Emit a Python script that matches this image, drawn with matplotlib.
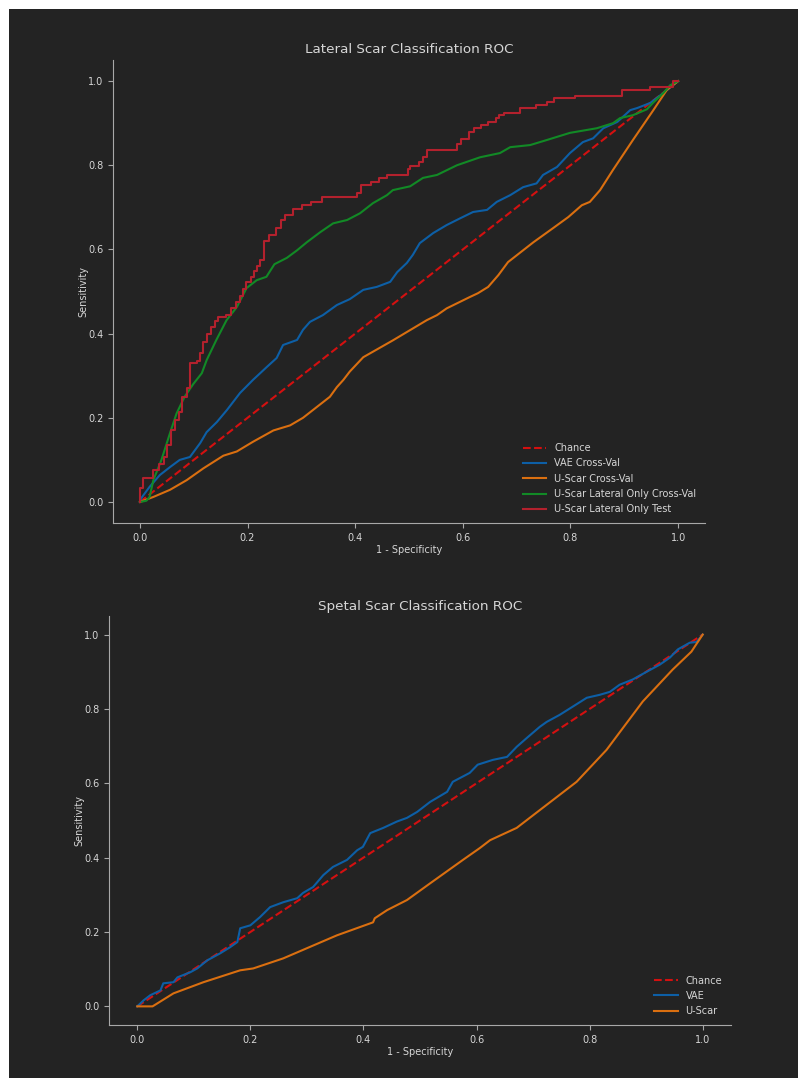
#!/usr/bin/env python3

import matplotlib
matplotlib.use("Agg")
import matplotlib.pyplot as plt
from matplotlib.patches import Rectangle

# ---- Lateral scar ROC (top panel) ----
chance = [0.0, 1.0]

vae_fpr = [0, 0.003, 0.018, 0.037, 0.056, 0.074, 0.093, 0.112, 0.124, 0.143, 0.162,
           0.186, 0.21, 0.236, 0.254, 0.266, 0.292, 0.303, 0.316, 0.34, 0.366, 0.39,
           0.415, 0.44, 0.465, 0.478, 0.496, 0.507, 0.52, 0.545, 0.57, 0.595, 0.619,
           0.645, 0.663, 0.688, 0.712, 0.737, 0.749, 0.775, 0.799, 0.823, 0.842, 0.861,
           0.887, 0.911, 0.924, 0.948, 0.972, 1.0]
vae_tpr = [0, 0.01, 0.036, 0.064, 0.083, 0.1, 0.107, 0.14, 0.166, 0.19, 0.219,
           0.259, 0.29, 0.321, 0.342, 0.373, 0.385, 0.409, 0.428, 0.444, 0.468, 0.482,
           0.504, 0.511, 0.523, 0.546, 0.568, 0.587, 0.615, 0.639, 0.658, 0.674, 0.689,
           0.694, 0.713, 0.729, 0.748, 0.757, 0.777, 0.796, 0.829, 0.855, 0.864, 0.888,
           0.903, 0.931, 0.936, 0.948, 0.971, 1.0]

uscar_fpr = [0, 0.025, 0.056, 0.087, 0.118, 0.155, 0.18, 0.21, 0.248, 0.279, 0.303,
             0.329, 0.353, 0.366, 0.378, 0.39, 0.415, 0.47, 0.533, 0.552, 0.57, 0.613,
             0.628, 0.647, 0.666, 0.684, 0.731, 0.768, 0.796, 0.821, 0.836, 0.855,
             0.879, 0.916, 0.954, 0.979, 1.0]
uscar_tpr = [0, 0.012, 0.029, 0.052, 0.08, 0.11, 0.12, 0.143, 0.17, 0.182, 0.2,
             0.226, 0.25, 0.273, 0.29, 0.31, 0.344, 0.384, 0.432, 0.444, 0.46, 0.487,
             0.496, 0.511, 0.539, 0.57, 0.617, 0.651, 0.677, 0.705, 0.713, 0.741,
             0.789, 0.86, 0.931, 0.979, 1.0]

lat_cv_fpr = [0, 0.012, 0.018, 0.025, 0.04, 0.056, 0.068, 0.083, 0.099, 0.115, 0.124,
              0.142, 0.161, 0.18, 0.198, 0.217, 0.235, 0.25, 0.273, 0.292, 0.31, 0.335,
              0.359, 0.385, 0.409, 0.433, 0.459, 0.47, 0.502, 0.526, 0.552, 0.589, 0.632,
              0.669, 0.688, 0.725, 0.756, 0.799, 0.849, 0.879, 0.892, 0.916, 0.942,
              0.953, 0.972, 0.985, 1.0]
lat_cv_tpr = [0, 0.003, 0.012, 0.052, 0.1, 0.164, 0.21, 0.25, 0.28, 0.306, 0.337,
              0.385, 0.432, 0.463, 0.508, 0.527, 0.535, 0.565, 0.58, 0.598, 0.617, 0.641,
              0.662, 0.67, 0.686, 0.71, 0.729, 0.741, 0.75, 0.77, 0.777, 0.8, 0.819,
              0.829, 0.843, 0.848, 0.86, 0.877, 0.888, 0.9, 0.912, 0.919, 0.933,
              0.948, 0.971, 0.99, 1.0]

# test curve: x where each riser sits, tpr at top of that riser
lat_test_fpr = [0, 0, 0.006, 0.025, 0.035, 0.045, 0.05, 0.058, 0.066, 0.072, 0.078,
                0.088, 0.094, 0.106, 0.112, 0.118, 0.124, 0.132, 0.140, 0.146, 0.160,
                0.170, 0.178, 0.186, 0.192, 0.198, 0.206, 0.212, 0.218, 0.224, 0.230,
                0.240, 0.252, 0.262, 0.270, 0.284, 0.302, 0.318, 0.338, 0.403, 0.410,
                0.430, 0.445, 0.460, 0.498, 0.502, 0.518, 0.526, 0.534, 0.590, 0.596,
                0.612, 0.620, 0.634, 0.646, 0.662, 0.668, 0.676, 0.706, 0.736, 0.756,
                0.770, 0.808, 0.896, 0.948, 0.990, 1.0]
lat_test_tpr = [0, 0.033, 0.057, 0.075, 0.09, 0.107, 0.135, 0.17, 0.195, 0.215, 0.25,
                0.27, 0.33, 0.335, 0.355, 0.38, 0.40, 0.415, 0.43, 0.44, 0.445,
                0.46, 0.475, 0.49, 0.505, 0.522, 0.535, 0.548, 0.56, 0.575, 0.62,
                0.635, 0.652, 0.67, 0.683, 0.695, 0.705, 0.713, 0.725, 0.735, 0.753,
                0.76, 0.77, 0.777, 0.79, 0.798, 0.808, 0.82, 0.836, 0.85, 0.862,
                0.879, 0.888, 0.895, 0.903, 0.912, 0.919, 0.924, 0.936, 0.943, 0.95,
                0.96, 0.964, 0.979, 0.986, 1.0, 1.0]

# ---- Septal scar ROC (bottom panel) ----
sep_vae_fpr = [0, 0.011, 0.023, 0.041, 0.046, 0.064, 0.071, 0.094, 0.106, 0.124, 0.147,
               0.164, 0.177, 0.182, 0.2, 0.217, 0.235, 0.258, 0.283, 0.293, 0.311, 0.329,
               0.346, 0.371, 0.389, 0.399, 0.412, 0.435, 0.459, 0.477, 0.495, 0.518,
               0.548, 0.558, 0.588, 0.602, 0.629, 0.654, 0.671, 0.689, 0.712, 0.724,
               0.747, 0.77, 0.795, 0.818, 0.836, 0.853, 0.876, 0.901, 0.924, 0.942,
               0.956, 0.977, 0.989, 1.0]
sep_vae_tpr = [0, 0.016, 0.03, 0.043, 0.062, 0.065, 0.078, 0.092, 0.102, 0.124, 0.143,
               0.159, 0.173, 0.21, 0.218, 0.24, 0.267, 0.28, 0.291, 0.305, 0.321, 0.353,
               0.375, 0.394, 0.42, 0.429, 0.466, 0.48, 0.497, 0.507, 0.523, 0.55,
               0.577, 0.604, 0.628, 0.65, 0.663, 0.671, 0.698, 0.722, 0.752, 0.765,
               0.784, 0.806, 0.83, 0.838, 0.846, 0.865, 0.879, 0.9, 0.919, 0.938,
               0.96, 0.978, 0.98, 1.0]

sep_uscar_fpr = [0, 0.027, 0.064, 0.117, 0.182, 0.205, 0.258, 0.353, 0.417, 0.42, 0.442,
                 0.477, 0.518, 0.576, 0.606, 0.624, 0.671, 0.712, 0.777, 0.83, 0.894,
                 0.947, 0.98, 1.0]
sep_uscar_tpr = [0, 0, 0.035, 0.065, 0.097, 0.102, 0.129, 0.191, 0.226, 0.237, 0.259,
                 0.286, 0.331, 0.394, 0.426, 0.447, 0.48, 0.528, 0.604, 0.69, 0.82,
                 0.906, 0.954, 1.0]

BG = "#232323"
TXT = "#d6d6d6"
SPINE = "#a8a8a8"

C_CHANCE = "#d41010"
C_BLUE = "#0d5fa6"
C_ORANGE = "#da6f10"
C_GREEN = "#128a26"
C_RED = "#b3212d"


def style_axes(ax, title, pad):
    ax.set_facecolor(BG)
    for side in ("top", "right"):
        ax.spines[side].set_visible(False)
    for side in ("left", "bottom"):
        ax.spines[side].set_color(SPINE)
    ax.tick_params(colors=SPINE, labelcolor=TXT, labelsize=7, length=3.5)
    ax.set_xlim(-0.05, 1.05)
    ax.set_ylim(-0.05, 1.05)
    ax.set_xticks([0, 0.2, 0.4, 0.6, 0.8, 1.0])
    ax.set_yticks([0, 0.2, 0.4, 0.6, 0.8, 1.0])
    ax.set_title(title, color=TXT, fontsize=9.7, pad=pad)
    ax.set_xlabel("1 - Specificity", color=TXT, fontsize=7, labelpad=1.5)
    ax.set_ylabel("Sensitivity", color=TXT, fontsize=7, labelpad=0)
    leg = ax.legend(loc="lower right", frameon=False, fontsize=7,
                    handlelength=2.4, labelspacing=0.55)
    for t in leg.get_texts():
        t.set_color(TXT)


def main():
    fig = plt.figure(figsize=(7.98, 10.78), dpi=100, facecolor="white")
    fig.add_artist(Rectangle((9 / 798, 0), 1, 1 - 9 / 1078,
                             transform=fig.transFigure, facecolor=BG,
                             edgecolor="none", zorder=-1))

    ax1 = fig.add_axes([0.1416, 0.5148, 0.7419, 0.4295])
    ax1.plot(chance, chance, color=C_CHANCE, ls="--", lw=1.5, label="Chance")
    ax1.plot(vae_fpr, vae_tpr, color=C_BLUE, lw=1.5, label="VAE Cross-Val")
    ax1.plot(uscar_fpr, uscar_tpr, color=C_ORANGE, lw=1.5, label="U-Scar Cross-Val")
    ax1.plot(lat_cv_fpr, lat_cv_tpr, color=C_GREEN, lw=1.5,
             label="U-Scar Lateral Only Cross-Val")
    ax1.plot(lat_test_fpr, lat_test_tpr, color=C_RED, lw=1.5,
             drawstyle="steps-post", label="U-Scar Lateral Only Test")
    style_axes(ax1, "Lateral Scar Classification ROC", pad=5)

    ax2 = fig.add_axes([0.1366, 0.0492, 0.7794, 0.3794])
    ax2.plot(chance, chance, color=C_CHANCE, ls="--", lw=1.5, label="Chance")
    ax2.plot(sep_vae_fpr, sep_vae_tpr, color=C_BLUE, lw=1.5, label="VAE")
    ax2.plot(sep_uscar_fpr, sep_uscar_tpr, color=C_ORANGE, lw=1.5, label="U-Scar")
    style_axes(ax2, "Spetal Scar Classification ROC", pad=4)

    fig.savefig("out.png", dpi=100, facecolor=fig.get_facecolor())


if __name__ == "__main__":
    main()
